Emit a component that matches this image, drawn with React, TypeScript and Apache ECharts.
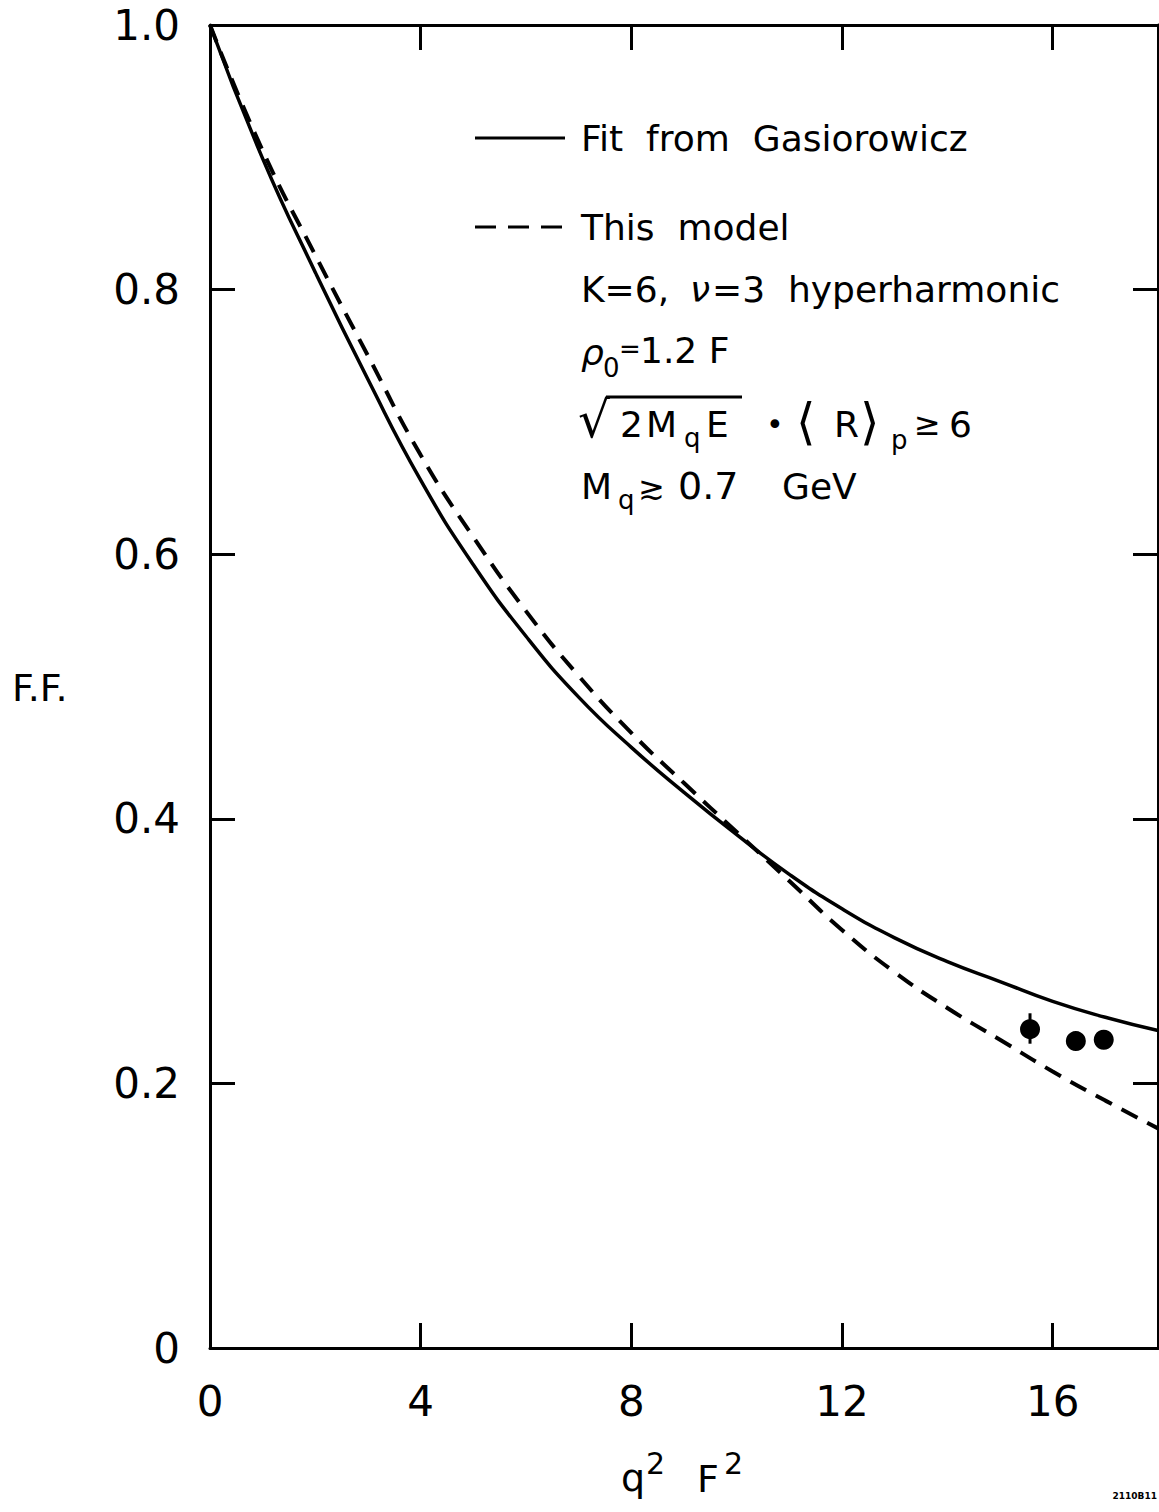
import React, { useEffect, useRef } from 'react';
import * as echarts from 'echarts';

const FONT = "'DejaVu Sans', sans-serif";

// axis ticks
const xTicks = [0, 4, 8, 12, 16];
const xInnerTicks = [4, 8, 12, 16];
const yTicks = [0, 0.2, 0.4, 0.6, 0.8, 1.0];

// q^2 F^2 sample positions
const curveX = [0, 1, 2, 3, 4, 5, 6, 7, 8, 9, 10, 11, 12, 13, 14, 15, 16, 17, 18];

// Fit from Gasiorowicz (solid)
const gasY = [1.0, 0.899, 0.813, 0.732, 0.656, 0.592, 0.538, 0.492, 0.454, 0.42, 0.388, 0.358, 0.332, 0.31, 0.292, 0.277, 0.262, 0.25, 0.24];

// This model (dashed)
const modY = [1.0, 0.905, 0.826, 0.75, 0.675, 0.613, 0.557, 0.508, 0.465, 0.427, 0.39, 0.353, 0.316, 0.284, 0.257, 0.233, 0.209, 0.187, 0.166];

// data points
const ptsX = [15.57, 16.44, 16.97];
const ptsY = [0.241, 0.232, 0.233];
const errX = [15.57, 15.57];
const errY = [0.23, 0.253];

const zip = (a: number[], b: number[]) => a.map((v, i) => [v, b[i]]);

const txt = (text: string, x: number, y: number, fontSize: number, extra: any = {}) => ({
  type: 'text',
  x,
  y,
  silent: true,
  style: {
    text,
    fontSize,
    fontFamily: FONT,
    fill: '#000',
    align: 'left',
    verticalAlign: 'middle',
    ...extra,
  },
});

const axisLine = { show: true, onZero: false, lineStyle: { color: '#000', width: 3 } };
const tickStyle = { color: '#000', width: 3 };

const option: any = {
  animation: false,
  backgroundColor: '#fff',
  grid: { left: 210, top: 25, width: 948, height: 1323 },
  xAxis: [
    {
      type: 'value',
      min: 0,
      max: 18,
      interval: 4,
      position: 'bottom',
      axisLine,
      axisTick: { show: true, inside: true, length: 25, lineStyle: tickStyle, customValues: xInnerTicks },
      axisLabel: {
        show: true,
        customValues: xTicks,
        fontSize: 42,
        fontFamily: FONT,
        color: '#000',
        margin: 32,
      },
      splitLine: { show: false },
    },
    {
      type: 'value',
      min: 0,
      max: 18,
      interval: 4,
      position: 'top',
      axisLine,
      axisTick: { show: true, inside: true, length: 25, lineStyle: tickStyle, customValues: xInnerTicks },
      axisLabel: { show: false },
      splitLine: { show: false },
    },
  ],
  yAxis: [
    {
      type: 'value',
      min: 0,
      max: 1,
      interval: 0.2,
      position: 'left',
      axisLine,
      axisTick: { show: true, inside: true, length: 25, lineStyle: tickStyle, customValues: yTicks },
      axisLabel: {
        show: true,
        customValues: yTicks,
        fontSize: 42,
        fontFamily: FONT,
        color: '#000',
        margin: 30,
        formatter: (v: number) => (v === 0 ? '0' : v.toFixed(1)),
      },
      splitLine: { show: false },
    },
    {
      type: 'value',
      min: 0,
      max: 1,
      interval: 0.2,
      position: 'right',
      axisLine,
      axisTick: { show: true, inside: true, length: 25, lineStyle: tickStyle, customValues: yTicks },
      axisLabel: { show: false },
      splitLine: { show: false },
    },
  ],
  series: [
    {
      name: 'Fit from Gasiorowicz',
      type: 'line',
      data: zip(curveX, gasY),
      smooth: 0.5,
      showSymbol: false,
      symbol: 'none',
      lineStyle: { color: '#000', width: 3.5 },
      z: 3,
    },
    {
      name: 'This model',
      type: 'line',
      data: zip(curveX, modY),
      smooth: 0.5,
      showSymbol: false,
      symbol: 'none',
      lineStyle: { color: '#000', width: 4, type: [18, 11] },
      z: 3,
    },
    {
      name: 'error',
      type: 'line',
      data: zip(errX, errY),
      showSymbol: false,
      symbol: 'none',
      lineStyle: { color: '#000', width: 3 },
      z: 4,
    },
    {
      name: 'data',
      type: 'scatter',
      data: zip(ptsX, ptsY),
      symbol: 'circle',
      symbolSize: 20,
      itemStyle: { color: '#000', opacity: 1 },
      z: 5,
    },
  ],
  graphic: [
    // axis titles
    txt('F.F.', 12, 688, 38),
    txt('q', 621, 1478, 38),
    txt('2', 646, 1463, 30),
    txt('F', 697, 1479, 38),
    txt('2', 724, 1463, 30),
    txt('2110B11', 1157, 1496, 9, { fontWeight: 'bold', align: 'right' }),
    // legend
    { type: 'line', silent: true, shape: { x1: 475, y1: 138, x2: 565, y2: 138 }, style: { stroke: '#000', lineWidth: 3 } },
    txt('Fit  from  Gasiorowicz', 581, 138, 36),
    {
      type: 'line',
      silent: true,
      shape: { x1: 475, y1: 227, x2: 563, y2: 227 },
      style: { stroke: '#000', lineWidth: 3, lineDash: [21, 12] },
    },
    txt('This  model', 581, 227, 36),
    txt('K=6,  ', 581, 289, 36),
    txt('ν', 690, 289, 36, { fontStyle: 'italic' }),
    txt('=3  hyperharmonic', 712, 289, 36),
    txt('ρ', 581, 352, 36, { fontStyle: 'italic' }),
    txt('0', 603, 368, 26),
    txt('=', 619, 349, 26),
    txt('1.2 F', 640, 350, 36),
    txt('√', 578, 420, 50),
    { type: 'line', silent: true, shape: { x1: 606, y1: 397, x2: 742, y2: 397 }, style: { stroke: '#000', lineWidth: 3 } },
    txt('2', 620, 424, 36),
    txt('M', 646, 424, 36),
    txt('q', 684, 438, 26),
    txt('E', 706, 424, 36),
    txt('•', 766, 424, 30),
    txt('⟨', 796, 422, 50),
    txt('R', 834, 424, 36),
    txt('⟩', 860, 422, 50),
    txt('p', 891, 440, 26),
    txt('≥', 914, 424, 32),
    txt('6', 949, 424, 36),
    txt('M', 581, 486, 36),
    txt('q', 618, 500, 26),
    txt('≳', 638, 488, 32),
    txt('0.7', 678, 486, 38),
    txt('GeV', 782, 486, 36),
  ],
};

export default function App() {
  const ref = useRef<HTMLDivElement>(null);
  useEffect(() => {
    const chart = echarts.init(ref.current!, null, { renderer: 'svg' });
    chart.setOption(option);
    return () => chart.dispose();
  }, []);
  return (
    <div
      ref={ref}
      style={{ position: 'absolute', left: 0, top: 0, width: 1159, height: 1512, background: '#fff' }}
    />
  );
}
